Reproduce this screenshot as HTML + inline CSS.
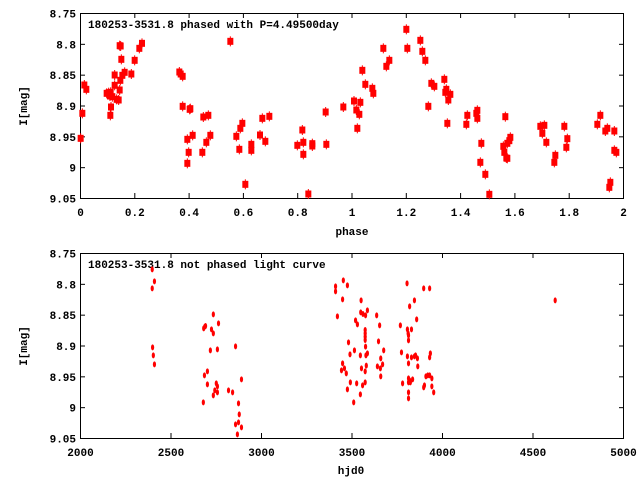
<!DOCTYPE html>
<html><head><meta charset="utf-8"><style>
html,body{margin:0;padding:0;background:#fff;}
svg text{font-family:"Liberation Mono","DejaVu Sans Mono",monospace;font-weight:bold;font-size:11px;fill:#000;}
</style></head><body>
<svg width="640" height="480" viewBox="0 0 640 480" xmlns="http://www.w3.org/2000/svg">
<rect width="640" height="480" fill="#fff"/>
<g id="axes" stroke="#000" stroke-width="1" fill="none">
<rect x="80.5" y="13.5" width="543" height="185"/>
<rect x="80.5" y="253.5" width="543" height="185"/>
</g>
<g stroke="#000" stroke-width="1" id="ticks"></g>
<g id="labels"></g>
<text x="88" y="28">180253-3531.8 phased with P=4.49500day</text>
<text x="88" y="268">180253-3531.8 not phased light curve</text>
<text x="352" y="235" text-anchor="middle">phase</text>
<text x="351" y="474" text-anchor="middle">hjd0</text>
<text transform="translate(27,106) rotate(-90)" text-anchor="middle">I[mag]</text>
<text transform="translate(27,346) rotate(-90)" text-anchor="middle">I[mag]</text>
<g id="pts1" fill="#f00" stroke="#f00"></g>
<g id="pts2" fill="#f00" stroke="#f00"></g>
</svg>
<script>
var NS="http://www.w3.org/2000/svg";
function el(p,t,a,txt){var e=document.createElementNS(NS,t);for(var k in a)e.setAttribute(k,a[k]);if(txt)e.textContent=txt;document.getElementById(p).appendChild(e);}
var yl=["8.75","8.8","8.85","8.9","8.95","9","9.05"];
for(var i=0;i<7;i++){
 [13,253].forEach(function(t){var y=t+i*185/6+0.5;
  el("ticks","line",{x1:80,y1:y,x2:85,y2:y});el("ticks","line",{x1:619,y1:y,x2:624,y2:y});
  el("labels","text",{x:76,y:y+4,"text-anchor":"end"},yl[i]);});
}
var xl1=["0","0.2","0.4","0.6","0.8","1","1.2","1.4","1.6","1.8","2"];
for(var i=0;i<11;i++){var x=80.5+i*54.3;
 el("ticks","line",{x1:x,y1:198,x2:x,y2:193});el("ticks","line",{x1:x,y1:13,x2:x,y2:18});
 el("labels","text",{x:x,y:216,"text-anchor":"middle"},xl1[i]);}
for(var i=0;i<7;i++){var x=80.5+i*90.5;
 el("ticks","line",{x1:x,y1:438,x2:x,y2:433});el("ticks","line",{x1:x,y1:253,x2:x,y2:258});
 el("labels","text",{x:x,y:456,"text-anchor":"middle"},String(2000+i*500));}
var a=[[62,415],[67,340],[73,255],[79,268],[140,280],[146,278],[152,277],[150,288],[157,290],[170,298],[176,300],[153,321],[151,346],[164,256],[164,225],[179,270],[181,241],[187,226],[194,217],[184,178],[179,137],[182,138],[214,222],[224,181],[238,145],[246,130],[358,216],[362,222],[368,229],[368,319],[389,328],[391,326],[382,418],[398,406],[386,457],[382,490],[430,351],[445,346],[439,427],[451,406],[427,457],[511,124],[547,370],[541,385],[529,409],[538,448],[556,553],[574,433],[574,451],[600,405],[607,355],[616,424],[628,349],[712,436],[727,390],[730,427],[730,463],[757,431],[757,438],[745,582],[797,336],[799,433],[850,321]];
var b=[[42,303],[49,330],[58,343],[61,307],[52,385],[67,211],[76,253],[97,265],[100,280],[130,145],[139,199],[148,181],[199,88],[202,145],[241,121],[247,154],[256,181],[274,250],[283,259],[265,319],[313,238],[316,277],[319,268],[331,283],[325,300],[322,370],[379,373],[382,346],[409,340],[412,331],[412,355],[424,430],[421,487],[436,523],[448,583],[490,439],[493,457],[499,474],[502,475],[502,430],[508,422],[511,412],[496,350],[601,379],[613,376],[607,400],[619,427],[646,466],[643,487],[673,379],[682,416],[679,442],[772,373],[781,346],[796,393],[802,385],[823,393],[823,451],[829,457],[808,562],[811,547]];
function m1(x,y){el("pts1","line",{x1:x,y1:y-5,x2:x,y2:y+5,"stroke-width":1});el("pts1","rect",{x:x-3,y:y-3.5,width:6,height:7,stroke:"none"});}
a.forEach(function(p){m1(60+p[0]/3,p[1]/3);});
b.forEach(function(p){m1(340+p[0]/3,p[1]/3);});
var c=[[249,88],[255,124],[249,145],[250,322],[252,346],[255,373],[388,265],[391,260],[393,258],[409,268],[414,280],[414,223],[428,250],[406,331],[425,328],[390,406],[398,394],[398,433],[422,430],[425,439],[418,451],[414,466],[425,457],[387,487],[455,451],[466,457],[474,319],[490,418],[482,490],[484,523],[474,553],[482,547],[490,562],[479,583],[744,139],[744,154],[765,121],[776,136],[763,178],[749,229],[813,181],[812,217],[818,222],[825,226],[830,211],[798,241],[803,253],[824,270],[824,280],[824,290],[824,300],[779,307],[795,331],[783,343],[811,346],[825,320],[826,346],[830,340],[763,370],[768,385],[760,391],[773,400],[827,377],[814,385],[824,394],[784,427],[801,430],[817,436],[824,427],[776,448],[811,463],[793,487],[855,226],[863,256],[860,304],[866,355],[874,331],[857,379],[865,385],[871,373],[866,409],[919,256],[938,268],[940,280],[941,286],[949,268],[941,301],[944,199],[957,181],[963,238],[922,337],[938,349],[941,370],[949,352],[957,349],[960,346],[965,355],[966,379],[937,130],[982,145],[998,145],[941,415],[944,421],[941,427],[946,427],[952,418],[925,430],[941,457],[941,475],[988,409],[993,406],[998,406],[1004,415],[1000,340],[998,352],[1004,439],[984,436],[982,442],[1009,457],[1337,181]];
c.forEach(function(p){var x=60+p[0]/2.7,y=240+p[1]/3;el("pts2","ellipse",{cx:x,cy:y,rx:1.6,ry:3,stroke:"none"});});
</script>
</body></html>
